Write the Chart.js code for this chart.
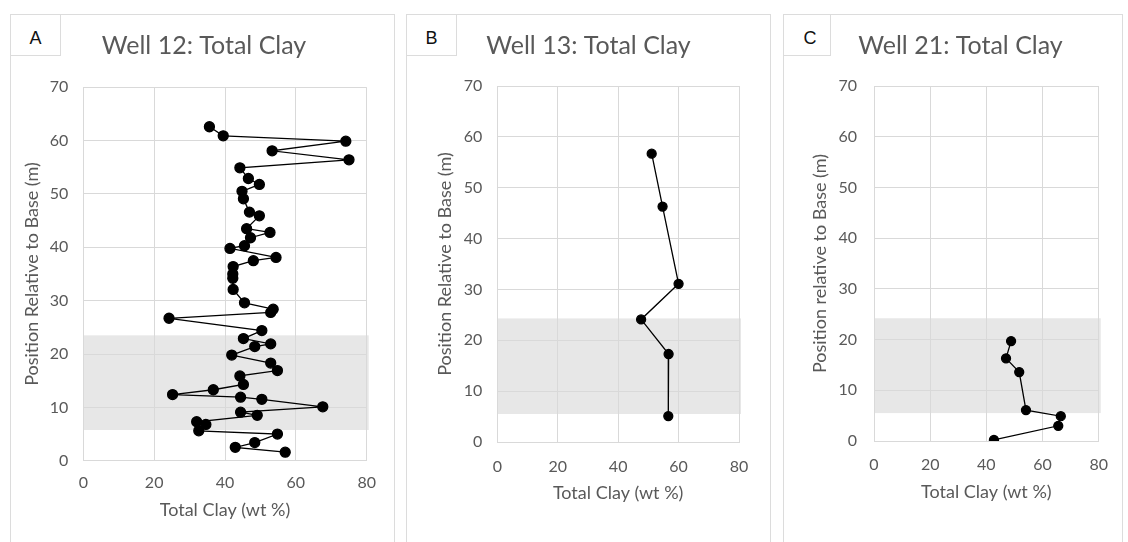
<!DOCTYPE html>
<html>
<head>
<meta charset="utf-8">
<script src="https://cdn.jsdelivr.net/npm/chart.js@4.4.0/dist/chart.umd.min.js"></script>
<style>
  html, body { margin: 0; padding: 0; background: #ffffff; }
  body { width: 1128px; height: 542px; position: relative; overflow: hidden; }
  .frame { position: absolute; top: 14px; height: 540px; border: 1px solid #dcdcdc; border-bottom: none; box-sizing: border-box; }
  .tag { position: absolute; top: 14px; height: 42px; background: #fff; border: 1px solid #dcdcdc; box-sizing: border-box;
         font-family: "Liberation Sans", Arial, sans-serif; font-size: 18px; color: #111; text-align: center;
         line-height: 40px; padding-top: 3px; }
  .panel { position: absolute; top: 15px; height: 527px; }
</style>
</head>
<body>
<div class="frame" style="left:10px;width:385px;"></div>
<div class="frame" style="left:406px;width:365px;"></div>
<div class="frame" style="left:783px;width:340px;"></div>

<div class="panel" style="left:10px;width:384px;"><canvas id="cA"></canvas></div>
<div class="panel" style="left:407px;width:363px;"><canvas id="cB"></canvas></div>
<div class="panel" style="left:783px;width:339px;"><canvas id="cC"></canvas></div>

<div class="tag" style="left:10px;width:51px;">A</div>
<div class="tag" style="left:406px;width:51px;">B</div>
<div class="tag" style="left:783px;width:48px;padding-left:6px;">C</div>

<script>
// ---------- DATA ----------
const panelTitles = ["Well 12: Total Clay", "Well 13: Total Clay", "Well 21: Total Clay"];
const yAxisTitles = ["Position Relative to Base (m)", "Position Relative to Base (m)", "Position relative to Base (m)"];
const xAxisTitle = "Total Clay (wt %)";
const xTickValues = [0, 20, 40, 60, 80];
const yTickValues = [0, 10, 20, 30, 40, 50, 60, 70];

const well12Clay = [35.6, 39.5, 74.1, 53.3, 75.0, 44.2, 46.6, 49.7, 44.8, 45.2, 46.9, 49.7, 46.1, 52.7, 47.2, 45.5, 41.4, 54.4, 48.0, 42.3,
                    42.2, 42.2, 42.3, 45.5, 53.6, 52.9, 24.2, 50.4, 45.2, 52.9, 48.4, 41.9, 52.9, 54.8, 44.2, 45.2, 36.7, 25.2, 44.4, 50.4,
                    67.6, 44.4, 49.1, 32.0, 34.6, 32.6, 54.8, 48.4, 42.9, 57.0];
const well12Pos  = [62.6, 60.9, 59.9, 58.1, 56.4, 54.9, 52.9, 51.8, 50.5, 49.1, 46.6, 45.9, 43.5, 42.8, 41.8, 40.3, 39.8, 38.1, 37.5, 36.4,
                    35.0, 34.2, 32.1, 29.6, 28.4, 27.8, 26.7, 24.4, 22.9, 21.9, 21.4, 19.8, 18.3, 16.9, 15.9, 14.3, 13.3, 12.4, 11.9, 11.5,
                    10.1, 9.1, 8.5, 7.3, 6.8, 5.6, 5.0, 3.4, 2.5, 1.6];

const well13Clay = [51.1, 54.7, 60.0, 47.6, 56.7, 56.6];
const well13Pos  = [56.7, 46.3, 31.1, 24.1, 17.3, 5.1];

const well21Clay = [48.8, 47.0, 51.7, 54.1, 66.5, 65.6, 42.7];
const well21Pos  = [19.7, 16.3, 13.6, 6.1, 4.9, 3.0, 0.2];

// shaded interval (position, m): [bottom, top]
const well12Band = [5.75, 23.5];
const well13Band = [5.5, 24.3];
const well21Band = [5.5, 24.2];

// ---------- STYLE ----------
const GREY_TEXT = "#595959";
const GRID = "#d9d9d9";
const FONT = "Lato, 'Open Sans', sans-serif";
const TITLE_SIZE = 25, TITLE_LH = 1.2;

const bandPlugin = {
  id: "band",
  beforeDraw(chart, args, opts) {
    const xs = chart.scales.x, ys = chart.scales.y;
    const ctx = chart.ctx;
    const x0 = xs.getPixelForValue(0);
    const x1 = xs.getPixelForValue(80) + opts.extra;
    const yTop = ys.getPixelForValue(opts.range[1]);
    const yBot = ys.getPixelForValue(opts.range[0]);
    ctx.save();
    ctx.fillStyle = "#e7e7e7";
    ctx.fillRect(x0, yTop, x1 - x0, yBot - yTop);
    ctx.restore();
  }
};

function makeChart(id, clay, pos, band, yTitle, L) {
  const points = clay.map((v, i) => ({ x: v, y: pos[i] }));
  // horizontal padding so the full-width title is centred where the reference has it
  let padL = 0, padR = 0;
  if (L.tc > L.w / 2) padL = 2 * L.tc - L.w; else padR = L.w - 2 * L.tc;
  const rightGap = (L.w - L.right) - padR;
  const titleH = TITLE_SIZE * TITLE_LH;
  return new Chart(document.getElementById(id), {
    type: "scatter",
    data: {
      datasets: [{
        data: points,
        showLine: true,
        borderColor: "#000",
        borderWidth: 1.3,
        backgroundColor: "#000",
        pointBackgroundColor: "#000",
        pointBorderColor: "#000",
        pointRadius: L.r,
        pointHoverRadius: L.r
      }]
    },
    options: {
      responsive: true,
      maintainAspectRatio: false,
      animation: false,
      layout: { padding: { left: padL, right: padR, top: 0, bottom: 0 } },
      plugins: {
        legend: { display: false },
        tooltip: { enabled: false },
        title: {
          display: true,
          text: L.title,
          color: GREY_TEXT,
          font: { family: FONT, size: TITLE_SIZE, weight: "normal", lineHeight: TITLE_LH },
          padding: { top: 15.5, bottom: L.top - 15.5 - titleH }
        },
        band: { range: band, extra: 2 }
      },
      scales: {
        x: {
          type: "linear",
          min: 0, max: 80,
          afterBuildTicks: (s) => { s.ticks = xTickValues.map(v => ({ value: v })); },
          afterFit: (s) => { s.height = L.h - L.bottom; },
          grid: { color: GRID, drawTicks: false, lineWidth: 1 },
          border: { color: GRID, width: 1 },
          ticks: { color: GREY_TEXT, font: { family: FONT, size: 16 }, padding: L.xPad },
          title: { display: true, text: xAxisTitle, color: GREY_TEXT,
                   font: { family: FONT, size: 18, lineHeight: 1.2 }, padding: { top: 0, bottom: L.xTitle - 1.2 } }
        },
        y: {
          type: "linear",
          position: "left",
          min: 0, max: 70,
          afterBuildTicks: (s) => { s.ticks = yTickValues.map(v => ({ value: v })); },
          afterFit: (s) => { s.width = L.left - padL; },
          grid: { color: GRID, drawTicks: false, lineWidth: 1 },
          border: { color: GRID, width: 1 },
          ticks: { color: GREY_TEXT, font: { family: FONT, size: 16 }, padding: L.yPad },
          title: { display: true, text: yTitle, color: GREY_TEXT,
                   font: { family: FONT, size: 18, lineHeight: 1.2 }, padding: { top: L.yTitle - padL - 1.2, bottom: 0 } }
        },
        yRight: {
          type: "linear",
          position: "right",
          min: 0, max: 70,
          display: rightGap > 0,
          afterFit: (s) => { s.width = Math.max(0, rightGap); },
          grid: { display: false, drawTicks: false },
          border: { display: false },
          ticks: { display: false }
        }
      }
    },
    plugins: [bandPlugin]
  });
}

// tc = title centre (canvas x), left/right/top/bottom = plot area edges (canvas px)
makeChart("cA", well12Clay, well12Pos, well12Band, yAxisTitles[0],
  { title: panelTitles[0], w: 384, h: 527, tc: 194, left: 73.3, right: 356.7, top: 72.3, bottom: 445.7, r: 5, xPad: 13, yPad: 15, xTitle: 22.4, yTitle: 12.4 });
makeChart("cB", well13Clay, well13Pos, well13Band, yAxisTitles[1],
  { title: panelTitles[1], w: 363, h: 527, tc: 181.5, left: 90.3, right: 332, top: 71, bottom: 427, r: 4.5, xPad: 15, yPad: 15, xTitle: 39.4, yTitle: 28.4 });
makeChart("cC", well21Clay, well21Pos, well21Band, yAxisTitles[2],
  { title: panelTitles[2], w: 339, h: 527, tc: 177.5, left: 91, right: 322, top: 71, bottom: 426, r: 4.5, xPad: 14, yPad: 17, xTitle: 40.4, yTitle: 27.4 });
</script>
</body>
</html>
